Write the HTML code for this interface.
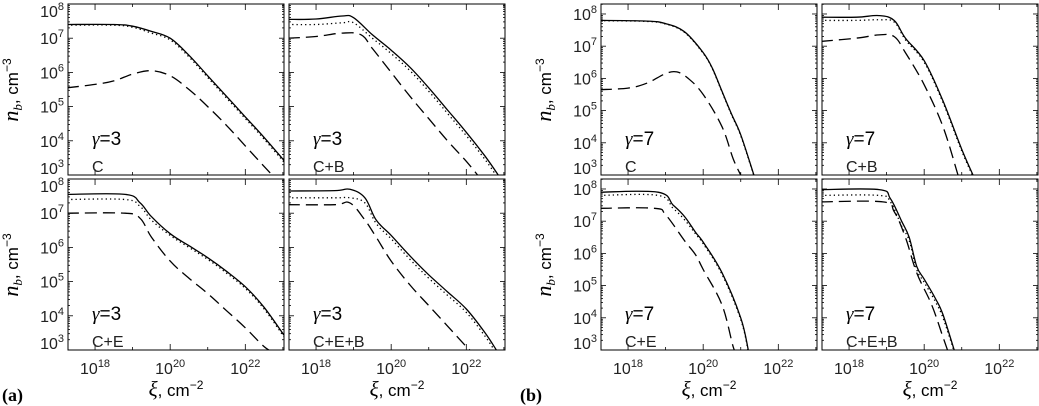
<!DOCTYPE html>
<html><head><meta charset="utf-8"><style>
html,body{margin:0;padding:0;background:#fff}
svg{display:block;font-family:"Liberation Sans",sans-serif}
</style></head><body>
<svg id="fig" width="1039" height="406" viewBox="0 0 1039 406"></svg>
<script>
// Data: log10(xi) and log10(n_b)
const xDomain = [17.28, 23.03];
const yDomainA = [3, 8];
const yDomainB = [3, 8.31];
const xTicks = [18, 20, 22];
const yTicks = [3, 4, 5, 6, 7, 8];
const panelNames = ["a-C", "a-CB", "a-CE", "a-CEB", "b-C", "b-CB", "b-CE", "b-CEB"];
const gammaLabels = ["3","3","3","3","7","7","7","7"];
const caseLabels = ["C","C+B","C+E","C+E+B","C","C+B","C+E","C+E+B"];
const solidX = [
 [17.25,18.5,19,19.5,20,20.5,21,21.5,22,22.5,23.05],
 [17.25,18,18.7,19,19.5,20,20.5,21,21.5,22,22.5,22.85],
 [17.25,18.8,19.2,19.5,20,20.5,21,21.5,22,22.5,23.05],
 [17.25,18.5,18.9,19.3,19.6,20,20.5,21,21.5,22,22.5,22.8],
 [17.25,18.5,19,19.5,20,20.25,20.5,20.75,21,21.35],
 [17.25,18.2,18.8,19.2,19.5,20,20.5,21,21.3],
 [17.25,18.8,19.2,19.5,19.8,20,20.5,21,21.2],
 [17.25,18.8,19.1,19.4,19.6,19.8,20,20.3,20.5,20.8]
];
const solidY = [
 [7.4,7.4,7.35,7.2,7.0,6.5,5.9,5.3,4.7,4.1,3.4],
 [7.55,7.56,7.65,7.6,7.1,6.65,6.15,5.55,4.9,4.25,3.55,3.0],
 [7.55,7.55,7.3,6.9,6.4,6.05,5.7,5.3,4.85,4.25,3.4],
 [7.65,7.66,7.7,7.45,6.8,6.35,5.75,5.2,4.7,4.2,3.5,3.0],
 [7.8,7.78,7.7,7.45,6.8,6.3,5.6,4.9,4.25,3.0],
 [7.9,7.9,7.95,7.8,7.25,6.55,5.3,3.8,3.0],
 [7.9,7.9,7.5,7.15,6.65,6.35,5.4,4.0,3.0],
 [7.98,7.98,7.7,7.0,6.5,5.6,5.2,4.6,4.1,3.0]
];
const dotY = [
 [7.38,7.38,7.32,7.15,6.95,6.45,5.85,5.25,4.65,4.05,3.35],
 [7.4,7.4,7.45,7.45,7.0,6.55,6.05,5.45,4.8,4.15,3.45,2.9],
 [7.4,7.4,7.2,6.8,6.35,6.0,5.65,5.25,4.8,4.2,3.35],
 [7.45,7.45,7.45,7.3,6.7,6.25,5.65,5.1,4.6,4.1,3.4,2.9],
 [7.79,7.77,7.69,7.43,6.78,6.28,5.58,4.88,4.22,2.98],
 [7.8,7.8,7.82,7.75,7.2,6.5,5.25,3.75,2.95],
 [7.8,7.8,7.4,7.05,6.6,6.3,5.35,3.95,2.95],
 [7.8,7.8,7.6,6.85,6.4,5.5,5.1,4.5,4.0,2.95]
];
const dashX = [
 [17.25,18,18.5,19,19.5,20,20.5,21,21.5,22,22.5,22.8],
 [17.25,18,18.7,19.2,19.5,20,20.5,21,21.5,22,22.3],
 [17.25,18.8,19.2,19.5,20,20.5,21,21.5,22,22.5,22.8],
 [17.25,18.5,18.9,19.3,19.6,20,20.5,21,21.5,22,22.2],
 [17.25,18,18.5,19,19.3,19.6,20,20.5,20.8,21.0],
 [17.25,18.2,18.8,19.2,19.5,20,20.5,20.9],
 [17.25,18.7,19,19.5,19.8,20,20.5,20.8,20.9],
 [17.25,18.9,19.2,19.5,19.8,20.2,20.5,20.65]
];
const dashY = [
 [5.55,5.65,5.75,5.95,6.05,5.9,5.5,5.0,4.45,3.85,3.25,2.9],
 [7.0,7.05,7.15,7.1,6.7,6.0,5.3,4.65,4.0,3.4,3.0],
 [7.0,7.0,6.85,6.3,5.6,5.1,4.65,4.15,3.65,3.1,2.9],
 [7.25,7.25,7.3,6.8,6.3,5.6,4.9,4.3,3.7,3.1,2.9],
 [5.65,5.7,5.85,6.15,6.2,6.0,5.5,4.5,3.5,3.0],
 [7.15,7.25,7.35,7.3,6.8,5.8,4.5,3.0],
 [7.4,7.4,7.2,6.4,5.95,5.5,4.4,3.1,2.9],
 [7.6,7.6,7.3,6.5,5.4,4.4,3.4,2.9]
];

const NS = "http://www.w3.org/2000/svg";
const svg = document.getElementById("fig");
function mk(tag, attrs, parent){const e=document.createElementNS(NS,tag);for(const k in attrs)e.setAttribute(k,attrs[k]);(parent||svg).appendChild(e);return e;}
const panelBoxes = [
 [68,4],[289,4],[68,179],[289,179],
 [601,4],[822,4],[601,179],[822,179]
];
const PW=216, PH=171;
function sx(box,v){return box[0]+(v-xDomain[0])/(xDomain[1]-xDomain[0])*PW;}
function makeSy(dom){return (box,v)=>box[1]+PH-(v-dom[0])/(dom[1]-dom[0])*PH;}
function smoothPath(pts){
  let d="M"+pts[0][0].toFixed(1)+","+pts[0][1].toFixed(1);
  for(let k=0;k<pts.length-1;k++){
    const p0=pts[Math.max(0,k-1)],p1=pts[k],p2=pts[k+1],p3=pts[Math.min(pts.length-1,k+2)];
    const t=0.18;
    const c1=[p1[0]+(p2[0]-p0[0])*t,p1[1]+(p2[1]-p0[1])*t];
    const c2=[p2[0]-(p3[0]-p1[0])*t,p2[1]-(p3[1]-p1[1])*t];
    d+=" C"+c1[0].toFixed(1)+","+c1[1].toFixed(1)+" "+c2[0].toFixed(1)+","+c2[1].toFixed(1)+" "+p2[0].toFixed(1)+","+p2[1].toFixed(1);
  }
  return d;
}

panelNames.forEach((nm,i)=>{
  const b=panelBoxes[i];
  const dom = i<4 ? yDomainA : yDomainB;
  const sy = makeSy(dom);
  const g=mk("g",{});
  
  
  const cp=mk("clipPath",{id:"cp"+i},g);
  mk("rect",{x:b[0],y:b[1],width:PW,height:PH},cp);
  for(let d=3; d<=8; d++){
    for(let m=1;m<=9;m++){
      const v=d+Math.log10(m); if(v>dom[1]+1e-9)break;
      const L=m===1?5:2, y=sy(b,v);
      mk("line",{x1:b[0],x2:b[0]+L,y1:y,y2:y,stroke:"#000","stroke-width":0.8},g);
      mk("line",{x1:b[0]+PW,x2:b[0]+PW-L,y1:y,y2:y,stroke:"#000","stroke-width":0.8},g);
    }
  }
  for(let d=17; d<=23; d++){
    const x=sx(b,d); if(x<b[0]||x>b[0]+PW)continue;
    const L=d%2===0?6:3;
    mk("line",{x1:x,x2:x,y1:b[1]+PH,y2:b[1]+PH-L,stroke:"#000","stroke-width":0.8},g);
    mk("line",{x1:x,x2:x,y1:b[1],y2:b[1]+L,stroke:"#000","stroke-width":0.8},g);
  }
  const fr=mk("rect",{x:b[0],y:b[1],width:PW,height:PH,fill:"none",stroke:"#000","stroke-width":1},g);
  
  
  const cg=mk("g",{"clip-path":"url(#cp"+i+")"},g);
  function line(xs,ys,dash,name){
    const pts=xs.map((x,k)=>[sx(b,x),sy(b,ys[k])]);
    const e=mk("path",{d:smoothPath(pts),fill:"none",stroke:"#000","stroke-width":1.3,"stroke-linejoin":"round"},cg);
    if(dash==="dot")e.setAttribute("stroke-dasharray","1.3 3");
    if(dash==="dash")e.setAttribute("stroke-dasharray","12 6");
    
    
  }
  line(solidX[i],solidY[i],null,"solid-curve");
  line(solidX[i],dotY[i],"dot","dotted-curve");
  line(dashX[i],dashY[i],"dash","dashed-curve");
  const t1=mk("text",{x:b[0]+24,y:b[1]+141,"font-size":19},g);
  t1.innerHTML='<tspan font-family="Liberation Serif, serif" font-style="italic">γ</tspan>=' + gammaLabels[i];
  
  
  const t2=mk("text",{x:b[0]+24,y:b[1]+168,"font-size":16,fill:"#222"},g);
  t2.textContent=caseLabels[i];
  
  
  if(i%2===0){
    yTicks.forEach(v=>{
      const y=sy(b,v);
      let base=y+6;
      if(base<b[1]+13) base=b[1]+13;
      if(base>b[1]+PH-1) base=b[1]+PH-1;
      const t=mk("text",{x:b[0]-4,y:base,"font-size":16,"text-anchor":"end",fill:"#222"},g);
      t.innerHTML='10<tspan dy="-7" font-size="11">'+v+'</tspan>';
      
      
    });
    const yl=mk("text",{transform:"translate("+(b[0]-50)+","+(b[1]+86)+") rotate(-90)","font-size":17,"text-anchor":"middle"},g);
    yl.innerHTML='<tspan font-family="Liberation Serif, serif" font-style="italic" font-size="22">n</tspan><tspan font-family="Liberation Serif, serif" font-style="italic" font-size="13" dy="4">b</tspan><tspan dy="-4">,  cm</tspan><tspan dy="-7" font-size="12">−3</tspan>';
    
    
  }
  if(i%4>=2){
    xTicks.forEach(v=>{
      const x=sx(b,v);
      const t=mk("text",{x:x,y:b[1]+PH+24,"font-size":16,"text-anchor":"middle",fill:"#222"},g);
      t.innerHTML='10<tspan dy="-7" font-size="11">'+v+'</tspan>';
      
      
    });
    const xl=mk("text",{x:b[0]+PW/2,y:b[1]+PH+46,"font-size":17,"text-anchor":"middle"},g);
    xl.innerHTML='<tspan font-family="Liberation Serif, serif" font-style="italic" font-size="21">ξ</tspan>,  cm<tspan dy="-7" font-size="12">−2</tspan>';
    
    
  }
});
[["(a)",2],["(b)",520]].forEach(([s,x])=>{
  const t=mk("text",{x:x,y:401,"font-size":18,"font-weight":"bold","font-family":"Liberation Serif, serif"});
  t.textContent=s;
  
  
});
</script>
</body></html>
